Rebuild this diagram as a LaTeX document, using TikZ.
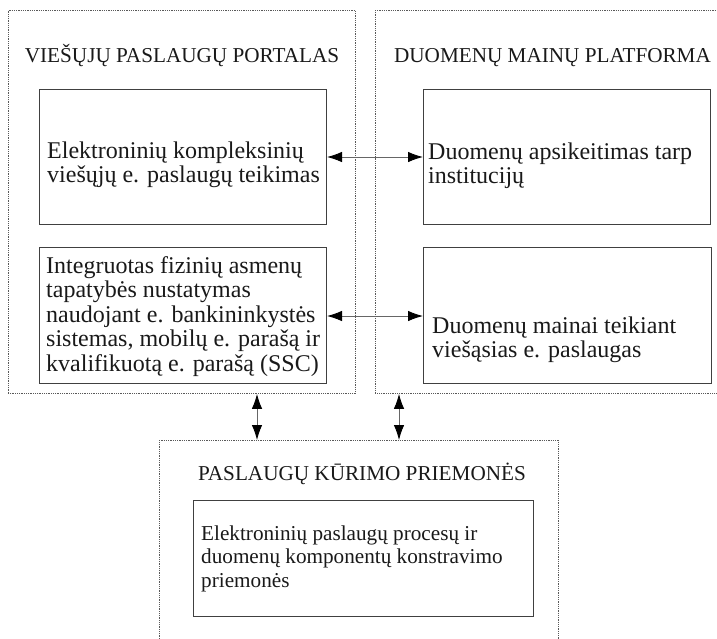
\documentclass[tikz,border=0pt]{standalone}
\usepackage{fontspec}
\setmainfont{Liberation Serif}
\usetikzlibrary{arrows.meta}
\begin{document}
\begin{tikzpicture}[x=1pt,y=-1pt,
  frame/.style={draw=black!65, line width=0.9pt, dash pattern=on 0.9pt off 0.9pt,
    anchor=north west, inner sep=0pt},
  block/.style={draw=black!75, line width=1pt, anchor=north west, inner sep=0pt},
  % anchored at the baseline of the last line
  blocktext/.style={anchor=base west, align=left, inner sep=0pt, text=black!90,
    font=\fontsize{24}{23.5}\selectfont},
  heading/.style={anchor=base, inner sep=0pt, text=black!90, font=\fontsize{21.2}{24}\selectfont},
  link/.style={draw=black!60, line width=0.9pt,
    {Latex[length=15pt,width=10.5pt,color=black]}-{Latex[length=15pt,width=10.5pt,color=black]}}]
\useasboundingbox (0,0) rectangle (717,638);

% outer dotted frames
\node[frame, minimum width=347.5pt, minimum height=383pt] (portal) at (7.5,10) {};
\node[frame, minimum width=346pt, minimum height=383pt] (platform) at (375,10) {};
\node[frame, minimum width=399pt, minimum height=212pt] (tools) at (159,440) {};

% frame headings
\node[heading] (portalT) at (182,62) {VIEŠŲJŲ PASLAUGŲ PORTALAS};
\node[heading] (platformT) at (552.5,62) {DUOMENŲ MAINŲ PLATFORMA};
\node[heading] (toolsT) at (362,480) {PASLAUGŲ KŪRIMO PRIEMONĖS};

% inner blocks
\node[block, minimum width=287pt, minimum height=135pt] (svc) at (39,89) {};
\node[block, minimum width=287pt, minimum height=135pt] (xchg) at (423,89) {};
\node[block, minimum width=287pt, minimum height=136pt] (ident) at (39,247) {};
\node[block, minimum width=288pt, minimum height=136pt] (pub) at (423,247) {};
\node[block, minimum width=340pt, minimum height=116pt] (build) at (193,500) {};

% block texts
\node[blocktext] (svcT) at (47,182) {Elektroninių kompleksinių\\viešųjų e. paslaugų teikimas};
\node[blocktext] (xchgT) at (428,183) {Duomenų apsikeitimas tarp\\institucijų};
\node[blocktext, font=\fontsize{24}{24.5}\selectfont] (identT) at (46,371)
  {Integruotas fizinių asmenų\\tapatybės nustatymas\\naudojant e. bankininkystės\\sistemas, mobilų e. parašą ir\\kvalifikuotą e. parašą (SSC)};
\node[blocktext] (pubT) at (432,357) {Duomenų mainai teikiant\\viešąsias e. paslaugas};
\node[blocktext, font=\fontsize{21.2}{23.5}\selectfont] (buildT) at (201,587)
  {Elektroninių paslaugų procesų ir\\duomenų komponentų konstravimo\\priemonės};

% two-way links
\draw[link] (svc.east) -- (xchg.west);
\draw[link] (ident.east |- 0,316) -- (pub.west |- 0,316);
\coordinate (downL) at (257,0);
\coordinate (downR) at (399,0);
\draw[link] (downL |- portal.south) -- (downL |- tools.north);
\draw[link] (downR |- platform.south) -- (downR |- tools.north);
\end{tikzpicture}
\end{document}
